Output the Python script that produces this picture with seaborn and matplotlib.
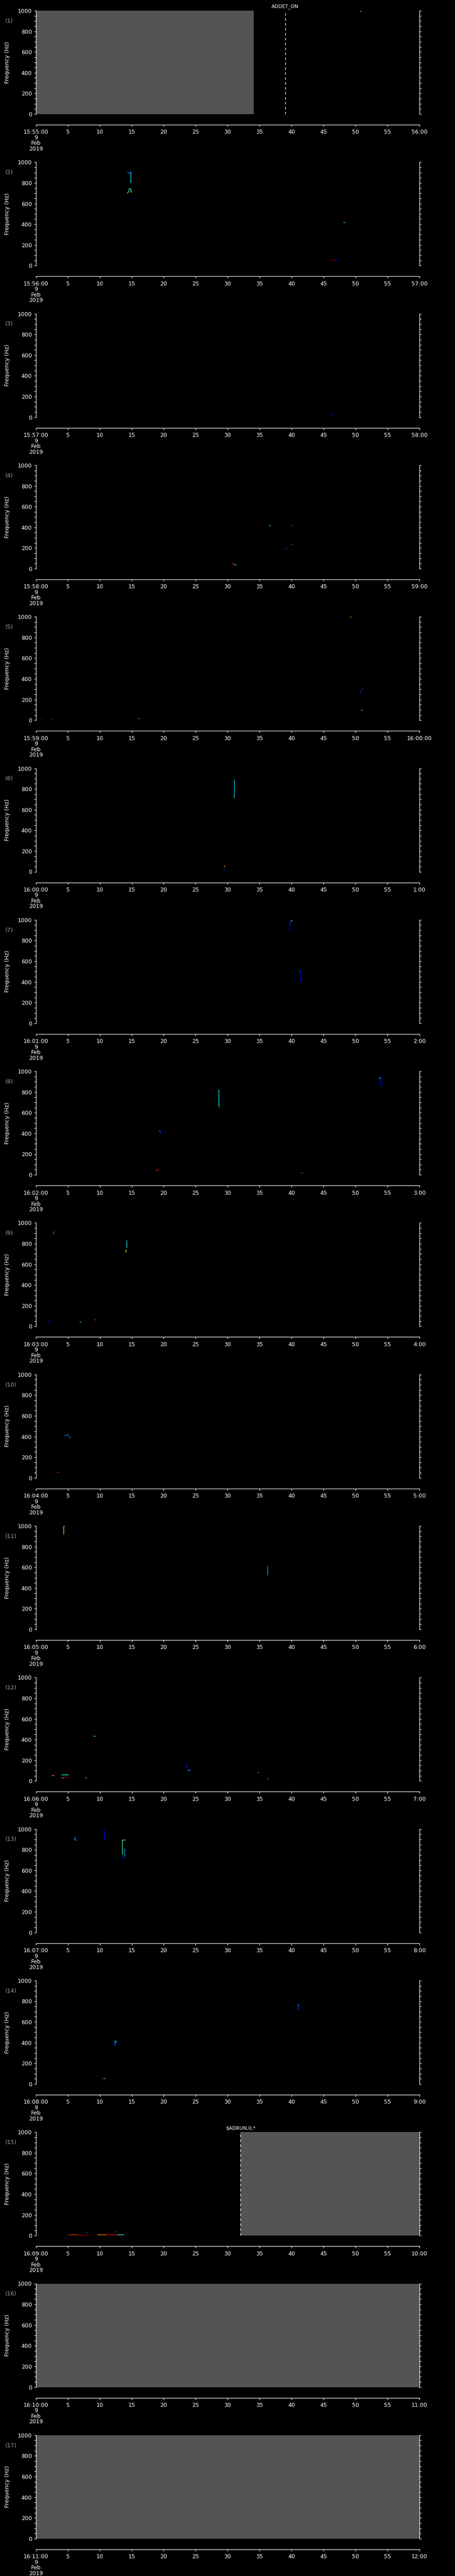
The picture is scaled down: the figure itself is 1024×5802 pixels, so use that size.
import numpy as np
import pandas as pd
import matplotlib
matplotlib.use('Agg')
import matplotlib.pyplot as plt
import seaborn as sns

# one panel per minute, 9 Feb 2019
start_labels = ['15:55:00', '15:56:00', '15:57:00', '15:58:00', '15:59:00', '16:00:00',
                '16:01:00', '16:02:00', '16:03:00', '16:04:00', '16:05:00', '16:06:00',
                '16:07:00', '16:08:00', '16:09:00', '16:10:00', '16:11:00']
end_labels = ['56:00', '57:00', '58:00', '59:00', '16:00:00', '1:00', '2:00', '3:00',
              '4:00', '5:00', '6:00', '7:00', '8:00', '9:00', '10:00', '11:00', '12:00']
mid_labels = ['5', '10', '15', '20', '25', '30', '35', '40', '45', '50', '55']
freq_ticks = [0, 200, 400, 600, 800, 1000]

# no-data (grey) intervals per panel, seconds after the minute
gray_spans = {1: [(0, 34.1)], 15: [(32.0, 60)], 16: [(0, 60)], 17: [(0, 60)]}

# event markers: panel, seconds, label
marker_panel = [1, 15]
marker_sec = [39.0, 32.0]
marker_text = ['ADDET_ON', r'\$ADRUN,0,*']

# spectrogram traces: (t0, t1, f0, f1, level 0..1 on jet)
p01 = [(50.7, 50.9, 995, 995, 0.75)]
p02 = [(14.3, 14.55, 905, 890, 0.2), (14.55, 14.8, 890, 905, 0.25), (14.8, 14.8, 905, 805, 0.36),
       (14.8, 14.9, 805, 805, 0.2), (14.3, 14.5, 700, 715, 0.7), (14.5, 14.6, 715, 745, 0.35),
       (14.6, 14.8, 745, 745, 0.4), (14.8, 14.8, 745, 715, 0.45), (14.8, 14.95, 715, 715, 0.7),
       (48.1, 48.4, 420, 415, 0.3), (46.4, 46.7, 53, 53, 0.95), (46.7, 47.1, 53, 53, 0.1)]
p03 = [(46.3, 46.6, 26, 26, 0.15)]
p04 = [(36.55, 36.7, 420, 412, 0.4), (39.95, 40.1, 420, 412, 0.2), (39.95, 40.2, 232, 240, 0.2),
       (39.0, 39.2, 197, 197, 0.2), (30.7, 30.9, 55, 45, 0.95), (30.9, 31.1, 45, 40, 0.65),
       (31.1, 31.4, 38, 33, 0.3)]
p05 = [(49.2, 49.3, 996, 998, 0.6), (50.8, 50.95, 262, 300, 0.15), (50.95, 51.1, 300, 300, 0.2),
       (50.9, 51.1, 95, 98, 0.33), (0.8, 1.1, 5, 5, 0.15), (2.4, 2.6, 5, 5, 0.2),
       (16.0, 16.2, 19, 19, 0.3)]
p06 = [(31.05, 31.05, 890, 725, 0.34), (30.95, 31.05, 725, 725, 0.55), (29.35, 29.5, 56, 56, 0.9),
       (29.4, 29.55, 53, 53, 0.7), (29.4, 29.55, 26, 26, 0.15)]
p07 = [(39.7, 39.7, 898, 975, 0.12), (39.7, 39.9, 975, 985, 0.2), (39.9, 40.05, 995, 995, 0.5),
       (41.2, 41.35, 504, 504, 0.2), (41.35, 41.35, 504, 410, 0.12), (41.35, 41.6, 410, 410, 0.12)]
p08 = [(53.7, 53.85, 935, 935, 0.4), (53.9, 53.9, 955, 875, 0.15), (54.0, 54.0, 870, 855, 0.12),
       (54.0, 54.2, 855, 875, 0.12), (28.6, 28.6, 824, 665, 0.37), (28.6, 28.75, 665, 650, 0.2),
       (19.3, 19.45, 423, 420, 0.3), (19.45, 19.45, 420, 398, 0.15), (18.7, 19.2, 49, 49, 0.88),
       (41.4, 41.6, 23, 23, 0.9), (41.6, 41.9, 23, 23, 0.15)]
p09 = [(2.7, 2.8, 898, 900, 0.7), (2.8, 2.85, 905, 921, 0.2), (14.2, 14.2, 831, 761, 0.37),
       (14.05, 14.15, 713, 740, 0.68), (1.9, 2.2, 46, 46, 0.15), (6.8, 7.1, 46, 46, 0.3),
       (9.2, 9.4, 66, 60, 0.25)]
p10 = [(4.5, 5.1, 417, 417, 0.25), (5.1, 5.2, 417, 400, 0.2), (5.2, 5.4, 395, 395, 0.35),
       (3.3, 3.6, 53, 53, 0.9)]
p11 = [(4.35, 4.35, 1000, 922, 0.52), (4.35, 4.45, 1000, 1000, 0.52), (36.2, 36.2, 613, 530, 0.3)]
p12 = [(9.0, 9.25, 435, 435, 0.38), (23.4, 23.55, 139, 139, 0.15), (23.55, 23.55, 139, 165, 0.15),
       (23.55, 23.7, 165, 165, 0.15), (23.8, 24.0, 104, 104, 0.4), (24.0, 24.3, 104, 102, 0.15),
       (34.7, 34.85, 84, 84, 0.36), (36.2, 36.4, 23, 20, 0.85), (2.4, 2.6, 56, 56, 0.95),
       (2.6, 2.8, 54, 54, 0.55), (4.0, 4.5, 60, 60, 0.36), (4.5, 5.1, 62, 62, 0.4),
       (4.0, 4.3, 33, 33, 0.8), (4.3, 5.1, 35, 35, 0.95), (7.8, 7.95, 26, 33, 0.4)]
p13 = [(6.1, 6.1, 926, 895, 0.3), (6.1, 6.3, 895, 895, 0.3), (10.65, 10.65, 1000, 895, 0.12),
       (10.65, 10.8, 895, 895, 0.15), (13.5, 13.5, 895, 758, 0.45), (13.5, 14.0, 895, 895, 0.48),
       (13.85, 13.85, 810, 737, 0.3), (13.55, 13.65, 705, 733, 0.15)]
p14 = [(40.95, 41.05, 768, 768, 0.42), (41.05, 41.05, 768, 719, 0.2), (12.25, 12.3, 374, 374, 0.2),
       (12.3, 12.3, 374, 417, 0.25), (12.3, 12.5, 417, 417, 0.36), (12.55, 12.6, 417, 395, 0.25),
       (10.4, 10.6, 54, 54, 0.9), (10.6, 10.8, 54, 54, 0.4)]
p15 = [(5.1, 6.5, 9, 9, 0.85), (6.5, 8.2, 7, 7, 0.95), (9.6, 11.0, 9, 9, 0.75),
       (11.0, 12.6, 10, 10, 0.9), (12.6, 13.8, 9, 9, 0.4), (7.8, 8.0, 33, 33, 0.2),
       (12.3, 12.5, 39, 39, 0.2)]
p16 = []
p17 = []
panels = [p01, p02, p03, p04, p05, p06, p07, p08, p09, p10, p11, p12, p13, p14, p15, p16, p17]

sns.set_theme(style='ticks', rc={'figure.facecolor': 'black', 'axes.facecolor': 'black',
                                 'axes.edgecolor': 'white', 'text.color': 'white',
                                 'axes.labelcolor': 'white', 'xtick.color': 'white',
                                 'ytick.color': 'white', 'savefig.facecolor': 'black'})
plt.rcParams['font.family'] = ['DejaVu Sans']

W, H = 1024, 5802
GRAY = '#545454'
jet = plt.get_cmap('jet')
fig = plt.figure(figsize=(W / 100, H / 100), dpi=100)

for i, segs in enumerate(panels):
    n = i + 1
    top = 24 + i * 341.3
    ax = fig.add_axes([80.7 / W, 1 - (top + 233) / H, 863.3 / W, 233 / H])
    ax.set_facecolor('black')

    for a, b in gray_spans.get(n, []):
        ax.axvspan(a, b, color=GRAY, lw=0, zorder=0)

    if segs:
        rows = []
        for k, (t0, t1, f0, f1, lv) in enumerate(segs):
            rows.append((k, t0, f0, lv))
            rows.append((k, t1, f1, lv))
        df = pd.DataFrame(rows, columns=['seg', 't', 'f', 'level'])
        sns.lineplot(data=df, x='t', y='f', units='seg', estimator=None, sort=False,
                     hue='level', palette=jet, hue_norm=(0, 1), legend=False,
                     lw=1.0, ax=ax, zorder=3)

    for p, s, txt in zip(marker_panel, marker_sec, marker_text):
        if p == n:
            ax.axvline(s, color='white', lw=1, ls=(0, (4, 4)), zorder=4)
            ax.text(s, 1018, txt, ha='center', va='bottom', fontsize=8, color='white')

    ax.set_xlim(0, 60)
    ax.set_ylim(0, 1000)

    ax.spines['top'].set_visible(False)
    ax.spines['bottom'].set_position(('outward', 17.3))
    for sp in ['left', 'right', 'bottom']:
        ax.spines[sp].set_color('white')
        ax.spines[sp].set_linewidth(0.9)

    ax.set_xticks(np.arange(0, 61, 5))
    ax.set_xticklabels([start_labels[i] + '\n9\nFeb\n2019'] + mid_labels + [end_labels[i]],
                       linespacing=0.95)
    ax.tick_params(axis='x', direction='out', length=3, width=0.9, pad=4.5,
                   labelsize=9, colors='white')

    ax.set_yticks(freq_ticks)
    ax.set_yticks(np.arange(0, 1001, 50), minor=True)
    ax.tick_params(axis='y', which='both', direction='out', length=3, width=0.9,
                   left=True, right=True, labelleft=True, labelright=False,
                   labelsize=9, pad=3.5, colors='white')

    ax.set_xlabel('')
    ax.set_ylabel('Frequency (Hz)', fontsize=9)
    ax.yaxis.set_label_coords(-0.067, 0.5)
    ax.text(-0.0796, 0.90, f'({n})', transform=ax.transAxes, ha='left', va='center',
            fontsize=9, color='#a0a0a0')

fig.savefig('out.png', dpi=100, facecolor='black')
